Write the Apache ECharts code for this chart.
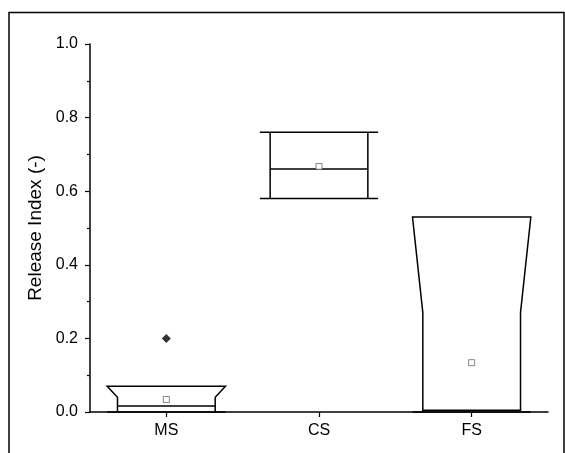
<!DOCTYPE html>
<html>
<head>
<meta charset="utf-8">
<script src="https://cdn.jsdelivr.net/npm/echarts@6/dist/echarts.min.js"></script>
<style>
html,body{margin:0;padding:0;background:#fff;}
#chart{width:565px;height:453px;}
</style>
</head>
<body>
<div id="chart"></div>
<script>
// ---- data ----
var categories = ['MS', 'CS', 'FS'];
var q1Values = [0.0, 0.58, 0.0];
var q3Values = [0.07, 0.76, 0.53];
var notchLowValues = [0.0, 0.58, 0.0];
var notchHighValues = [0.04, 0.76, 0.27];
var medianValues = [0.016, 0.66, 0.005];
var meanValues = [0.034, 0.667, 0.134];
var outlierCategories = ['MS'];
var outlierValues = [0.2];
var yTicks = [0, 0.2, 0.4, 0.6, 0.8, 1.0];

var boxData = categories.map(function (c, i) {
  return [i, q1Values[i], q3Values[i], notchLowValues[i], notchHighValues[i], medianValues[i]];
});
var meanData = categories.map(function (c, i) { return [c, meanValues[i]]; });
var outlierData = outlierCategories.map(function (c, i) { return [c, outlierValues[i]]; });

var chart = echarts.init(document.getElementById('chart'), null, {renderer: 'canvas'});

function renderBox(params, api) {
  var x = api.value(0);
  var q1 = api.value(1), q3 = api.value(2);
  var nl = Math.max(api.value(3), q1), nh = Math.min(api.value(4), q3);
  var med = api.value(5);
  var band = api.size([1, 0])[0];
  var wide = band * 0.775 / 2, narrow = band * 0.64 / 2;
  var cx = api.coord([x, 0])[0];
  var yq1 = api.coord([x, q1])[1], yq3 = api.coord([x, q3])[1];
  var ynl = api.coord([x, nl])[1], ynh = api.coord([x, nh])[1];
  var ym = api.coord([x, med])[1];
  var pts = [
    [cx - wide, yq3], [cx + wide, yq3], [cx + narrow, ynh], [cx + narrow, ynl],
    [cx + wide, yq1], [cx - wide, yq1], [cx - narrow, ynl], [cx - narrow, ynh]
  ];
  return {
    type: 'group',
    children: [
      {type: 'polygon', shape: {points: pts},
       style: {fill: 'none', stroke: '#000', lineWidth: 1.5}},
      {type: 'line', shape: {x1: cx - narrow, y1: ym, x2: cx + narrow, y2: ym},
       style: {stroke: '#000', lineWidth: 1.5}}
    ]
  };
}

var FONT = 'Liberation Sans, Arial, sans-serif';
var option = {
  backgroundColor: '#fff',
  animation: false,
  graphic: [{
    type: 'rect', shape: {x: 9, y: 12.5, width: 555, height: 460},
    style: {fill: 'none', stroke: '#000', lineWidth: 1.5}, silent: true, z: -1
  }],
  grid: {left: 90, right: 17, top: 44, bottom: 41, containLabel: false},
  xAxis: {
    type: 'category',
    data: categories,
    boundaryGap: true,
    axisLine: {lineStyle: {color: '#000', width: 1.5}},
    axisTick: {show: true, alignWithLabel: true, inside: false, length: 5, lineStyle: {color: '#000', width: 1.2}},
    axisLabel: {color: '#000', fontSize: 16, fontFamily: FONT, margin: 11},
    splitLine: {show: false}
  },
  yAxis: {
    type: 'value',
    min: 0, max: 1, interval: 0.2,
    name: 'Release Index (-)',
    nameLocation: 'middle',
    nameGap: 41,
    nameTextStyle: {color: '#000', fontSize: 19, fontFamily: FONT},
    axisLine: {show: true, lineStyle: {color: '#000', width: 1.5}},
    axisTick: {show: true, inside: false, length: 5, lineStyle: {color: '#000', width: 1.2}},
    minorTick: {show: true, splitNumber: 2, length: 3, lineStyle: {color: '#000', width: 1.2}},
    axisLabel: {
      color: '#000', fontSize: 16, fontFamily: FONT, margin: 12,
      formatter: function (v) {
        for (var i = 0; i < yTicks.length; i++) { if (Math.abs(v - yTicks[i]) < 1e-9) return yTicks[i].toFixed(1); }
        return '';
      }
    },
    splitLine: {show: false}
  },
  series: [
    {
      type: 'custom',
      renderItem: renderBox,
      data: boxData,
      encode: {x: 0, y: [1, 2, 3, 4, 5]},
      clip: false,
      z: 2
    },
    {
      type: 'scatter',
      data: meanData,
      symbol: 'rect',
      symbolSize: 6,
      itemStyle: {color: '#fff', borderColor: '#666', borderWidth: 1},
      z: 3
    },
    {
      type: 'scatter',
      data: outlierData,
      symbol: 'diamond',
      symbolSize: 9,
      itemStyle: {color: '#000'},
      z: 3
    }
  ]
};
chart.setOption(option);
</script>
</body>
</html>
